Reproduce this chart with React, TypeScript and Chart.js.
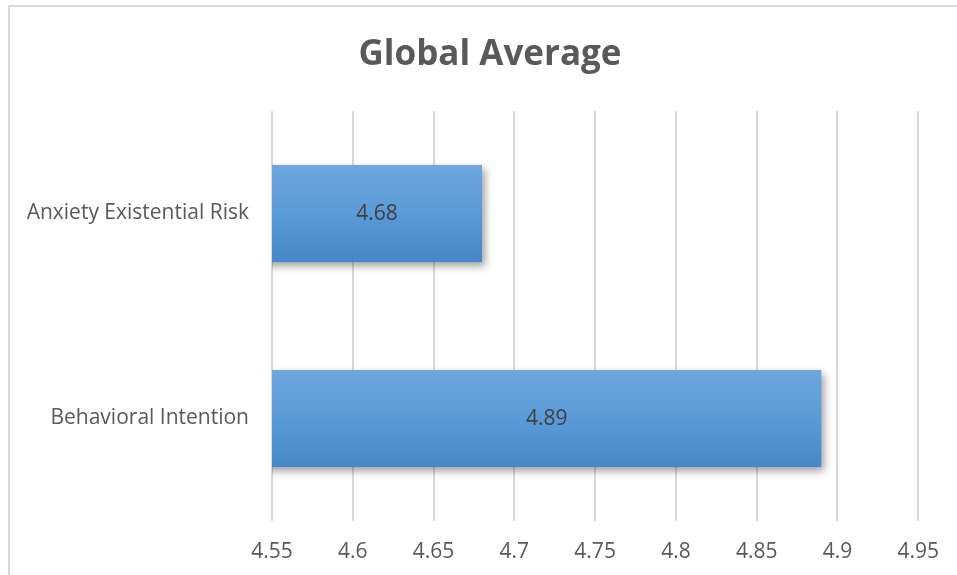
import React, { useEffect, useRef } from "react";
import { Chart, registerables } from "chart.js";

Chart.register(...registerables);

const categories = ["Anxiety Existential Risk", "Behavioral Intention"];
const values = [4.68, 4.89];
const xMin = 4.55;
const xMax = 4.95;
const xStep = 0.05;
const titleText = "Global Average";

const FONT = "'Open Sans', Lato, sans-serif";

const framePlugin = {
  id: "frame",
  beforeDraw(chart: any) {
    const ctx = chart.ctx;
    ctx.save();
    ctx.fillStyle = "#ffffff";
    ctx.fillRect(0, 0, chart.width, chart.height);
    ctx.strokeStyle = "#d9d9d9";
    ctx.lineWidth = 2;
    ctx.beginPath();
    ctx.moveTo(9, chart.height + 5);
    ctx.lineTo(9, 6);
    ctx.lineTo(chart.width + 5, 6);
    ctx.stroke();
    ctx.fillStyle = "#595959";
    ctx.font = `bold 35px ${FONT}`;
    ctx.textAlign = "center";
    ctx.textBaseline = "middle";
    ctx.fillText(titleText, 490, 55);
    ctx.restore();
  },
};

const barStylePlugin = {
  id: "barStyle",
  beforeDatasetDraw(chart: any) {
    const ctx = chart.ctx;
    ctx.save();
    ctx.shadowColor = "rgba(0,0,0,0.38)";
    ctx.shadowBlur = 8;
    ctx.shadowOffsetX = 3;
    ctx.shadowOffsetY = 4;
  },
  afterDatasetDraw(chart: any) {
    chart.ctx.restore();
  },
  afterDraw(chart: any) {
    const ctx = chart.ctx;
    const xs = chart.scales.x;
    const ys = chart.scales.y;
    ctx.save();
    ctx.fillStyle = "#404040";
    ctx.font = `21px ${FONT}`;
    ctx.textAlign = "center";
    ctx.textBaseline = "middle";
    values.forEach((v, i) => {
      const start = xs.getPixelForValue(xMin);
      const end = xs.getPixelForValue(v);
      ctx.fillText(String(v), (start + end) / 2, ys.getPixelForValue(i) + 1);
    });
    ctx.restore();
  },
};

function barGradient(context: any) {
  const chart = context.chart;
  const el = chart.getDatasetMeta(0).data[context.dataIndex];
  if (!el || !isFinite(el.y) || !isFinite(el.height)) return "#5b9bd5";
  const top = el.y - el.height / 2;
  const bottom = el.y + el.height / 2;
  const g = chart.ctx.createLinearGradient(0, top, 0, bottom);
  g.addColorStop(0, "#6fa6dd");
  g.addColorStop(0.5, "#5b9ad8");
  g.addColorStop(1, "#4787c7");
  return g;
}

export default function App() {
  const ref = useRef<HTMLCanvasElement | null>(null);

  useEffect(() => {
    if (!ref.current) return;
    const chart = new Chart(ref.current, {
      type: "bar",
      data: {
        labels: categories,
        datasets: [
          {
            data: values,
            backgroundColor: barGradient,
            borderWidth: 0,
            barPercentage: 0.946,
            categoryPercentage: 0.5,
          },
        ],
      },
      options: {
        indexAxis: "y",
        responsive: false,
        animation: false,
        layout: { padding: { top: 111, right: 38, bottom: 0, left: 0 } },
        plugins: {
          legend: { display: false },
          tooltip: { enabled: false },
          title: { display: false },
        },
        scales: {
          x: {
            type: "linear",
            min: xMin,
            max: xMax,
            border: { display: false },
            grid: { color: "#d9d9d9", lineWidth: 2, drawTicks: false },
            afterFit: (s: any) => {
              s.height = 54;
            },
            ticks: {
              stepSize: xStep,
              color: "#595959",
              font: { family: FONT, size: 21 },
              padding: 18,
              callback: (v: any) => String(Math.round(Number(v) * 100) / 100),
            },
          },
          y: {
            border: { display: false },
            grid: { display: false, drawTicks: false },
            afterFit: (s: any) => {
              s.width = 272;
            },
            ticks: {
              color: "#595959",
              font: { family: FONT, size: 21 },
              padding: 23,
            },
          },
        },
      },
      plugins: [framePlugin, barStylePlugin],
    });
    chart.update();
    return () => chart.destroy();
  }, []);

  return (
    <div style={{ position: "absolute", left: 0, top: 0, width: 957, height: 575 }}>
      <canvas ref={ref} width={957} height={575} />
    </div>
  );
}
